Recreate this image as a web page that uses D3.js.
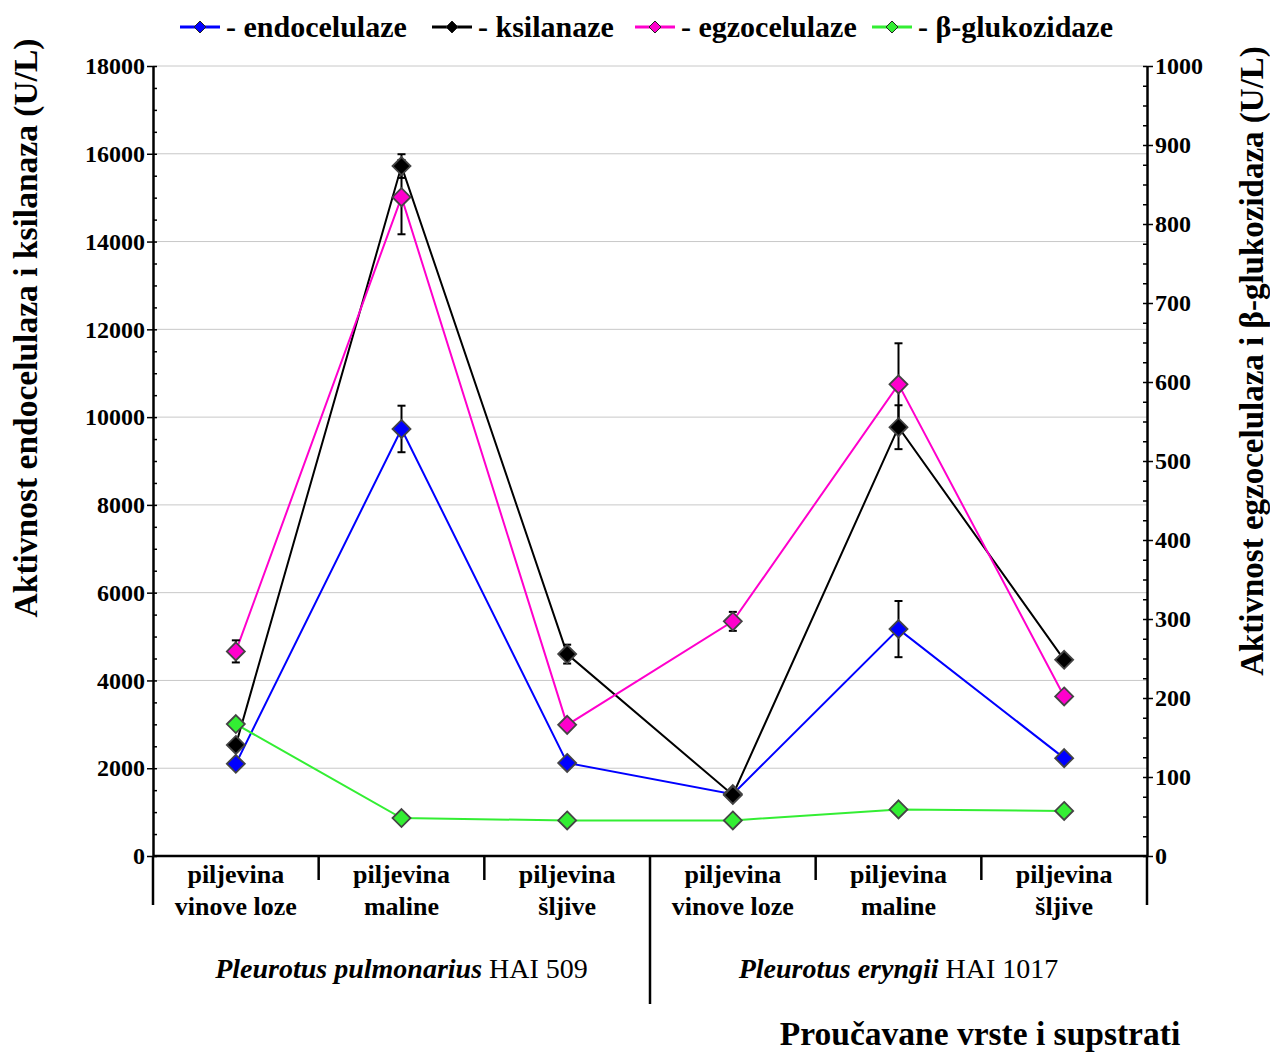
<!DOCTYPE html>
<html>
<head>
<meta charset="utf-8">
<script src="https://cdn.jsdelivr.net/npm/d3@7"></script>
<style>
  body { margin: 0; background: #fff; }
  svg text { font-family: 'Liberation Serif', 'DejaVu Serif', 'Times New Roman', serif !important; font-weight: bold; fill: #000; }
</style>
</head>
<body>
<svg id="fig" width="1270" height="1052" font-family="Liberation Serif, serif"></svg>
<script>
// categories
const groups = ['Pleurotus pulmonarius|HAI 509', 'Pleurotus eryngii|HAI 1017'];
const substrates = [['piljevina', 'vinove loze'], ['piljevina', 'maline'], ['piljevina', 'šljive']];
const categories = ['pp-vl', 'pp-ma', 'pp-sl', 'pe-vl', 'pe-ma', 'pe-sl'];

// series values (left axis: endo, ksil; right axis: egzo, beta)
const endocelulaze = [2100, 9730, 2120, 1410, 5170, 2230];
const endoErr      = [0, 530, 0, 0, 640, 0];
const ksilanaze    = [2530, 15720, 4600, 1390, 9770, 4470];
const ksilErr      = [0, 270, 215, 0, 500, 0];
const egzocelulaze = [259, 834, 166, 297, 597, 202];
const egzoErr      = [14, 47, 0, 12, 52, 0];
const glukozidaze  = [167, 48, 45, 45, 59, 57];
const glukErr      = [0, 0, 0, 0, 0, 0];

const leftTicks = d3.range(0, 18001, 2000);
const rightTicks = d3.range(0, 1001, 100);

const serif = "'Liberation Serif', 'DejaVu Serif', serif";
const svg = d3.select('#fig');
const margin = { top: 66, right: 123, bottom: 196, left: 153 };
const width = 1270, height = 1052;
const innerWidth = width - margin.left - margin.right;
const innerHeight = height - margin.top - margin.bottom;

const x = d3.scaleBand().domain(categories).range([0, innerWidth]);
const yL = d3.scaleLinear().domain([0, 18000]).range([innerHeight, 0]);
const yR = d3.scaleLinear().domain([0, 1000]).range([innerHeight, 0]);

const g = svg.append('g').attr('transform', `translate(${margin.left},${margin.top})`);

// gridlines
g.append('g').selectAll('line').data(leftTicks.slice(1)).enter().append('line')
    .attr('x1', 0).attr('x2', innerWidth)
    .attr('y1', d => yL(d)).attr('y2', d => yL(d))
    .attr('stroke', '#c8c8c8').attr('stroke-width', 1);

// minor ticks
g.append('g').call(d3.axisLeft(yL).tickValues(d3.range(0, 18001, 500)).tickSize(-4).tickFormat(''))
    .call(a => a.select('.domain').remove())
    .selectAll('line').attr('stroke', '#000').attr('stroke-width', 1.5);
g.append('g').attr('transform', `translate(${innerWidth},0)`)
    .call(d3.axisRight(yR).tickValues(d3.range(0, 1001, 25)).tickSize(-4).tickFormat(''))
    .call(a => a.select('.domain').remove())
    .selectAll('line').attr('stroke', '#000').attr('stroke-width', 1.5);

// left axis
const axL = g.append('g')
    .call(d3.axisLeft(yL).tickValues(leftTicks).tickFormat(d3.format('d')).tickSize(6).tickPadding(2).tickSizeOuter(0))
    .attr('font-family', serif);
axL.selectAll('text').style('font-size', '24px');
axL.select('.domain').attr('stroke-width', 2.5);
axL.selectAll('.tick line').attr('stroke-width', 1.5);

// right axis
const axR = g.append('g').attr('transform', `translate(${innerWidth},0)`)
    .call(d3.axisRight(yR).tickValues(rightTicks).tickFormat(d3.format('d')).tickSize(6).tickPadding(2).tickSizeOuter(0))
    .attr('font-family', serif);
axR.selectAll('text').style('font-size', '24px');
axR.select('.domain').attr('stroke-width', 2.5);
axR.selectAll('.tick line').attr('stroke-width', 1.5);

// bottom axis line and separators
g.append('line').attr('x1', 0).attr('x2', innerWidth).attr('y1', innerHeight).attr('y2', innerHeight)
    .attr('stroke', '#000').attr('stroke-width', 2.5);
const bounds = d3.range(0, 7).map(i => i * x.bandwidth());
g.append('g').selectAll('line').data(bounds).enter().append('line')
    .attr('x1', d => d).attr('x2', d => d)
    .attr('y1', innerHeight)
    .attr('y2', (d, i) => i === 3 ? innerHeight + 148 : (i === 0 || i === 6) ? innerHeight + 49 : innerHeight + 24)
    .attr('stroke', '#000').attr('stroke-width', 2.5);

// category labels
const catLab = g.append('g').selectAll('text').data(categories).enter().append('text')
    .attr('x', d => x(d) + x.bandwidth() / 2)
    .attr('y', innerHeight + 27)
    .attr('text-anchor', 'middle')
    .style('font-size', '26px');
catLab.append('tspan').attr('x', d => x(d) + x.bandwidth() / 2).text((d, i) => substrates[i % 3][0]);
catLab.append('tspan').attr('x', d => x(d) + x.bandwidth() / 2).attr('dy', 32).text((d, i) => substrates[i % 3][1]);

// group labels
groups.forEach((gr, i) => {
    const parts = gr.split('|');
    const t = g.append('text')
        .attr('x', x(categories[i * 3]) + x.bandwidth() * 1.5)
        .attr('y', innerHeight + 122)
        .attr('text-anchor', 'middle')
        .style('font-size', '28px');
    t.append('tspan').style('font-style', 'italic').text(parts[0]);
    t.append('tspan').style('font-weight', 'normal').text(' ' + parts[1]);
});

// x title
svg.append('text').attr('x', 980).attr('y', 1045).attr('text-anchor', 'middle')
    .style('font-size', '33.5px').text('Proučavane vrste i supstrati');

// y titles
svg.append('text').attr('transform', 'translate(37,328) rotate(-90)').attr('text-anchor', 'middle')
    .style('font-size', '33.5px').text('Aktivnost endocelulaza i ksilanaza (U/L)');
svg.append('text').attr('transform', 'translate(1263,361) rotate(-90)').attr('text-anchor', 'middle')
    .style('font-size', '33px').text('Aktivnost egzocelulaza i β-glukozidaza (U/L)');

// series
const series = [
    { name: '- endocelulaze', color: '#0000ff', values: endocelulaze, err: endoErr, y: yL },
    { name: '- ksilanaze', color: '#000000', values: ksilanaze, err: ksilErr, y: yL },
    { name: '- egzocelulaze', color: '#ff00cc', values: egzocelulaze, err: egzoErr, y: yR },
    { name: '- β-glukozidaze', color: '#33ee33', values: glukozidaze, err: glukErr, y: yR }
];

const cx = i => x(categories[i]) + x.bandwidth() / 2;
const diamond = 'M0,-9L9,0L0,9L-9,0Z';

series.forEach(s => {
    const line = d3.line().x((d, i) => cx(i)).y(d => s.y(d));
    g.append('path').datum(s.values).attr('d', line)
        .attr('fill', 'none').attr('stroke', s.color).attr('stroke-width', 2);
});

// error bars
series.forEach(s => {
    const eb = g.append('g');
    s.values.forEach((v, i) => {
        if (!s.err[i]) return;
        const y1 = s.y(v - s.err[i]), y2 = s.y(v + s.err[i]);
        eb.append('line').attr('x1', cx(i)).attr('x2', cx(i)).attr('y1', y1).attr('y2', y2)
            .attr('stroke', '#000').attr('stroke-width', 2);
        [y1, y2].forEach(yy => eb.append('line').attr('x1', cx(i) - 4).attr('x2', cx(i) + 4)
            .attr('y1', yy).attr('y2', yy).attr('stroke', '#000').attr('stroke-width', 2));
    });
});

// markers
series.forEach(s => {
    g.append('g').selectAll('path').data(s.values).enter().append('path')
        .attr('d', diamond)
        .attr('transform', (d, i) => `translate(${cx(i)},${s.y(d)})`)
        .attr('fill', s.color).attr('stroke', '#444').attr('stroke-width', 1.8);
});

// legend
const legX = [180, 432, 635, 872];
const leg = svg.append('g');
series.forEach((s, i) => {
    const lg = leg.append('g').attr('transform', `translate(${legX[i]},27)`);
    lg.append('line').attr('x1', 0).attr('x2', 40).attr('stroke', s.color).attr('stroke-width', 3);
    lg.append('path').attr('d', 'M0,-6L6,0L0,6L-6,0Z').attr('transform', 'translate(20,0)')
        .attr('fill', s.color).attr('stroke', '#222').attr('stroke-width', 1);
    lg.append('text').attr('x', 46).attr('y', 10).style('font-size', '30px').text(s.name);
});
</script>
</body>
</html>
